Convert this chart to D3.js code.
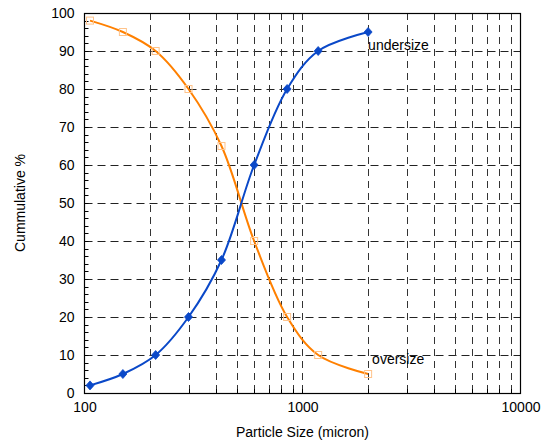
<!DOCTYPE html>
<html>
<head>
<meta charset="utf-8">
<script src="https://cdn.jsdelivr.net/npm/d3@7"></script>
<style>
body{margin:0;background:#fff;}
svg{display:block;font-family:"Liberation Sans",Arial,Helvetica,sans-serif;}
</style>
</head>
<body>
<svg id="chart" width="542" height="445"></svg>
<script>
const sizes = [106, 150, 212, 300, 425, 600, 850, 1180, 2000];
const undersize = [2, 5, 10, 20, 35, 60, 80, 90, 95];
const oversize = [98, 95, 90, 80, 65, 40, 20, 10, 5];
const xTickLabels = [100, 1000, 10000];
const yTickLabels = [0, 10, 20, 30, 40, 50, 60, 70, 80, 90, 100];

const svg = d3.select("#chart");
const L = 84.5, R = 520.5, T = 13, B = 393;
const x = d3.scaleLog().domain([100, 10000]).range([L, R]);
const y = d3.scaleLinear().domain([0, 100]).range([B, T]);

const logTicks = [];
for (let d = 100; d < 10000; d *= 10) for (let k = 1; k < 10; k++) logTicks.push(d * k);
logTicks.push(10000);
const innerLog = logTicks.filter(v => v > 100 && v < 10000);

const g = svg.append("g");

g.selectAll(".hg").data(yTickLabels.filter(v => v > 0 && v < 100)).join("line")
  .attr("x1", L).attr("x2", R)
  .attr("y1", d => Math.round(y(d)) + 0.5).attr("y2", d => Math.round(y(d)) + 0.5)
  .attr("stroke", "#222").attr("stroke-width", 1).attr("stroke-dasharray", "8,5");

g.selectAll(".vg").data(innerLog).join("line")
  .attr("x1", d => Math.round(x(d)) + 0.5).attr("x2", d => Math.round(x(d)) + 0.5)
  .attr("y1", T).attr("y2", B)
  .attr("stroke", "#333").attr("stroke-width", 1).attr("stroke-dasharray", "7,5");

const yMinor = d3.range(0, 101, 2);
g.selectAll(".ym").data(yMinor).join("line")
  .attr("x1", L).attr("x2", L + 4)
  .attr("y1", d => Math.round(y(d)) + 0.5).attr("y2", d => Math.round(y(d)) + 0.5)
  .attr("stroke", "#000");

g.selectAll(".xm").data(innerLog).join("line")
  .attr("x1", d => Math.round(x(d)) + 0.5).attr("x2", d => Math.round(x(d)) + 0.5)
  .attr("y1", B).attr("y2", B - 4)
  .attr("stroke", "#000");

g.append("rect").attr("x", L).attr("y", T + 0.5).attr("width", R - L).attr("height", B - T)
  .attr("fill", "none").attr("stroke", "#000").attr("stroke-width", 1.2);

const yAxis = d3.axisLeft(y).tickValues(yTickLabels).tickSize(0).tickPadding(10);
const ya = svg.append("g").attr("transform", `translate(${L},0)`).call(yAxis);
ya.select(".domain").remove();
ya.selectAll("text").attr("font-size", 14).attr("font-family", "Liberation Sans, Arial, sans-serif").attr("fill", "#000");

const xAxis = d3.axisBottom(x).tickValues(xTickLabels).tickFormat(d3.format("d")).tickSize(0).tickPadding(9);
const xa = svg.append("g").attr("transform", `translate(0,${B})`).call(xAxis);
xa.select(".domain").remove();
xa.selectAll("text").attr("font-size", 14).attr("font-family", "Liberation Sans, Arial, sans-serif").attr("fill", "#000");

const line = d3.line().x(d => x(d[0])).y(d => y(d[1])).curve(d3.curveCatmullRom.alpha(0.5));
const uData = sizes.map((s, i) => [s, undersize[i]]);
const oData = sizes.map((s, i) => [s, oversize[i]]);

svg.append("path").datum(oData).attr("d", line).attr("fill", "none")
  .attr("stroke", "#ff8000").attr("stroke-width", 2);
svg.selectAll(".osq").data(oData).join("rect")
  .attr("x", d => x(d[0]) - 3.5).attr("y", d => y(d[1]) - 3.5)
  .attr("width", 7).attr("height", 7)
  .attr("fill", "none").attr("stroke", "#ffc38a").attr("stroke-width", 1);

svg.append("path").datum(uData).attr("d", line).attr("fill", "none")
  .attr("stroke", "#0a48c8").attr("stroke-width", 2);
svg.selectAll(".ud").data(uData).join("path")
  .attr("d", "M0,-4.5L4,0L0,4.5L-4,0Z")
  .attr("transform", d => `translate(${x(d[0])},${y(d[1])})`)
  .attr("fill", "#0a48c8").attr("stroke", "#0a48c8").attr("stroke-width", 0.8);

svg.append("text").attr("x", x(2000)).attr("y", y(95) + 18).attr("font-size", 14).text("undersize");
svg.append("text").attr("x", x(2000) + 4).attr("y", y(5) - 10).attr("font-size", 14).text("oversize");

svg.append("text").attr("x", (L + R) / 2).attr("y", 437).attr("text-anchor", "middle")
  .attr("font-size", 14).text("Particle Size (micron)");
svg.append("text").attr("transform", `translate(25,${(T + B) / 2}) rotate(-90)`)
  .attr("text-anchor", "middle").attr("font-size", 14).text("Cummulative %");
</script>
</body>
</html>
